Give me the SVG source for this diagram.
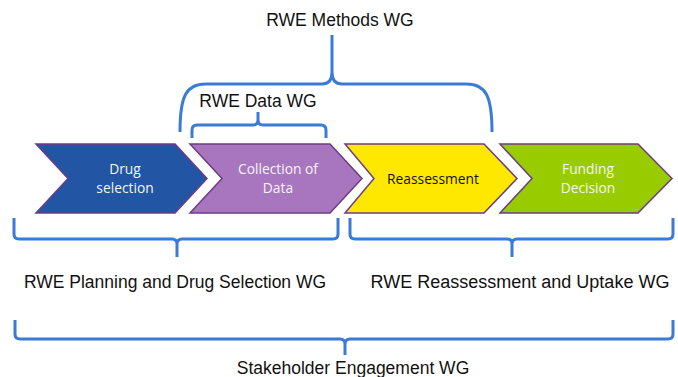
<svg xmlns="http://www.w3.org/2000/svg" width="678" height="377" viewBox="0 0 678 377">
<style>
.chev{stroke:#6b3d84;stroke-width:1.5;stroke-linejoin:miter}
.ct{font-family:"Open Sans","Liberation Sans",sans-serif;font-size:13.8px;text-anchor:middle}
.lbl{font-family:"Liberation Sans",Arial,sans-serif;font-size:17.5px;fill:#111;text-anchor:middle}
.br{fill:none;stroke:#3a7bd5;stroke-width:3;stroke-linecap:butt;stroke-linejoin:round}
</style>
<rect width="678" height="377" fill="#fff"/>
<g id="drug-selection">
<path class="chev" fill="#2255a4" d="M36,144 L175,144 L207,178.5 L175,213 L36,213 L68,178.5 Z"/>
<text class="ct" fill="#f4f4f4" x="125" y="173.5">Drug</text>
<text class="ct" fill="#f4f4f4" x="125" y="193">selection</text>
</g>
<g id="collection-of-data">
<path class="chev" fill="#a876bf" d="M190,144 L330,144 L362,178.5 L330,213 L190,213 L222,178.5 Z"/>
<text class="ct" fill="#f4f4f4" x="278" y="173.5">Collection of</text>
<text class="ct" fill="#f4f4f4" x="278" y="193">Data</text>
</g>
<g id="reassessment">
<path class="chev" fill="#ffe800" d="M345,144 L484,144 L517,178.5 L484,213 L345,213 L374,178.5 Z"/>
<text class="ct" fill="#111" x="433" y="184">Reassessment</text>
</g>
<g id="funding-decision">
<path class="chev" fill="#99cc00" d="M500,144 L638,144 L672,178.5 L638,213 L500,213 L532,178.5 Z"/>
<text class="ct" fill="#f4f4f4" x="588" y="173.5">Funding</text>
<text class="ct" fill="#f4f4f4" x="588" y="193">Decision</text>
</g>
<g id="connectors">
<path class="br" d="M180,132 C180,96 186,84 206,84 L322,84 Q332,84 332,72 L332,35 M332,72 Q332,84 342,84 L466,84 C486,84 492,96 492,132"/>
<path class="br" d="M192,138 L192,130 Q192,125 197,125 L253,125 Q258,125 258,120 L258,112 M258,120 Q258,125 263,125 L321,125 Q326,125 326,130 L326,138"/>
<path class="br" d="M14,218 L14,234 Q14,239 19,239 L172,239 Q177,239 177,244 L177,257 M177,244 Q177,239 182,239 L333,239 Q338,239 338,234 L338,218"/>
<path class="br" d="M350,218 L350,234 Q350,239 355,239 L507,239 Q512,239 512,244 L512,257 M512,244 Q512,239 517,239 L668,239 Q673,239 673,234 L673,218"/>
<path class="br" d="M15,320 L15,334 Q15,339 20,339 L340,339 Q345,339 345,344 L345,355 M345,344 Q345,339 350,339 L668,339 Q673,339 673,334 L673,320"/>
</g>
<g id="labels">
<text class="lbl" x="340" y="26">RWE Methods WG</text>
<text class="lbl" x="258" y="107">RWE Data WG</text>
<text class="lbl" x="175" y="288">RWE Planning and Drug Selection WG</text>
<text class="lbl" x="520" y="288" style="font-size:18px">RWE Reassessment and Uptake WG</text>
<text class="lbl" x="353" y="374">Stakeholder Engagement WG</text>
</g>
</svg>
